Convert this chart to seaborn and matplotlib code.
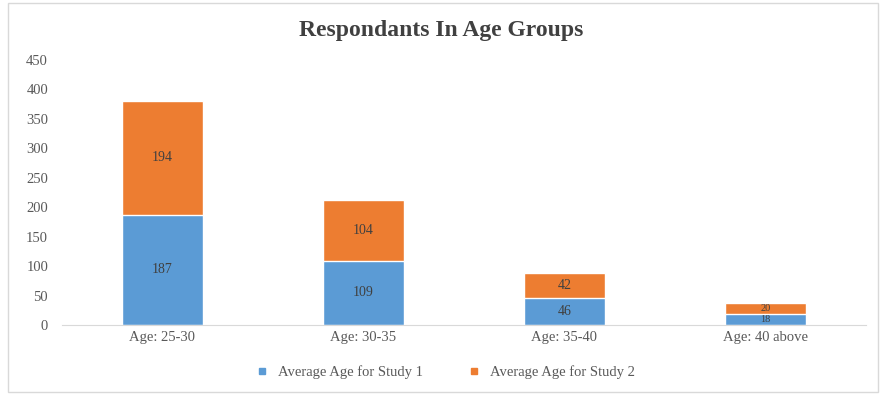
import matplotlib
matplotlib.use("Agg")
import matplotlib.pyplot as plt
import seaborn as sns
import numpy as np
from matplotlib.patches import Rectangle
from matplotlib.lines import Line2D

categories = ["Age: 25-30", "Age: 30-35", "Age: 35-40", "Age: 40 above"]
study1 = [187, 109, 46, 18]
study2 = [194, 104, 42, 20]
series_names = ["Average Age for Study 1", "Average Age for Study 2"]
yticks = [0, 50, 100, 150, 200, 250, 300, 350, 400, 450]

sns.set_style("white")
plt.rcParams['font.family'] = ['Liberation Serif', 'DejaVu Serif']

blue = "#5B9BD5"
orange = "#ED7D31"
txt = "#595959"

fig = plt.figure(figsize=(8.83, 3.95), dpi=100)
ax = fig.add_axes([0.0702, 0.1772, 0.9105, 0.6708])

totals = [a + b for a, b in zip(study1, study2)]
sns.barplot(x=categories, y=totals, color=orange, width=0.4, ax=ax, saturation=1)
sns.barplot(x=categories, y=study1, color=blue, width=0.4, ax=ax, saturation=1)

for i, (a, b) in enumerate(zip(study1, study2)):
    fs = 10 if min(a, b) > 30 else 7.5
    ax.text(i, a / 2, str(a), ha="center", va="center", fontsize=fs, color="#404040")
    ax.text(i, a + b / 2, str(b), ha="center", va="center", fontsize=fs, color="#404040")

ax.set_ylim(0, 450)
ax.set_xlim(-0.5, 3.5)
ax.set_yticks(yticks)
ax.set_yticklabels([str(t) for t in yticks])
ax.tick_params(axis="both", length=0, labelsize=10.5, colors=txt)
ax.tick_params(axis="y", pad=10)
ax.tick_params(axis="x", pad=4)
for s in ["top", "right", "left"]:
    ax.spines[s].set_visible(False)
ax.spines["bottom"].set_color("#D9D9D9")
ax.set_xlabel("")
ax.set_ylabel("")

fig.text(0.5, 0.922, "Respondants In Age Groups", ha="center", va="center",
         fontsize=17, fontweight="bold", color="#404040")

handles = [Line2D([], [], marker="s", linestyle="none", markersize=5, color=c) for c in (blue, orange)]
fig.legend(handles, series_names, loc="center", bbox_to_anchor=(0.5, 0.058), ncol=2,
           frameon=False, fontsize=10.5, handletextpad=0.1, columnspacing=2.5, labelcolor=txt)

fig.patches.append(Rectangle((0.009, 0.008), 0.985, 0.985, transform=fig.transFigure,
                             fill=False, edgecolor="#D9D9D9", linewidth=1))

fig.savefig("out.png", dpi=100)
